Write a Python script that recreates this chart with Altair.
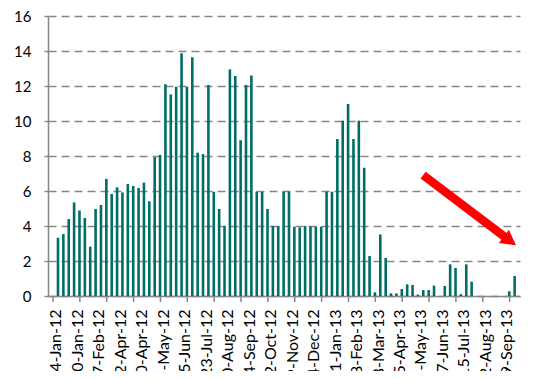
import altair as alt
import pandas as pd

# weekly values, Jan 2012 - Sep 2013 (86 categories)
values = [
    3.33, 3.54, 4.40, 5.35, 4.88, 4.46, 2.82, 4.97, 5.20, 6.69,
    5.83, 6.21, 5.92, 6.40, 6.29, 6.17, 6.48, 5.41, 7.94, 8.06,
    12.10, 11.52, 11.96, 13.87, 11.96, 13.64, 8.19, 8.11, 12.06, 5.96,
    4.97, 4.00, 12.95, 12.57, 8.90, 12.06, 12.60, 5.96, 5.94, 4.97,
    4.00, 4.00, 5.96, 5.96, 3.96, 3.92, 4.00, 3.96, 3.96, 3.96,
    5.96, 5.96, 8.97, 10.02, 10.97, 8.97, 10.02, 7.33, 2.29, 0.21,
    3.52, 2.17, 0.15, 0.15, 0.40, 0.67, 0.63, 0.08, 0.34, 0.34,
    0.59, 0.0, 0.57, 1.81, 1.60, 0.11, 1.81, 0.82, 0.0, 0.0,
    0.0, 0.0, 0.0, 0.0, 0.27, 1.14,
]

# category labels shown every 4th category
tick_labels = [
    "4-Jan-12", "30-Jan-12", "27-Feb-12", "2-Apr-12", "30-Apr-12", "28-May-12",
    "25-Jun-12", "23-Jul-12", "20-Aug-12", "24-Sep-12", "22-Oct-12", "19-Nov-12",
    "24-Dec-12", "21-Jan-13", "18-Feb-13", "18-Mar-13", "15-Apr-13", "13-May-13",
    "17-Jun-13", "15-Jul-13", "12-Aug-13", "9-Sep-13",
]
label_step = 4
tick_step = 5
y_ticks = [0, 2, 4, 6, 8, 10, 12, 14, 16]

# annotation arrow (in category / value units)
arrow_x = [68.4, 84.43]
arrow_y = [6.91, 3.18]

n = len(values)
df = pd.DataFrame({"i": list(range(n)), "v": values})
df_ticks = pd.DataFrame({"i": [k - 0.5 for k in range(0, n, tick_step)]})
df_arrow = pd.DataFrame({"i": arrow_x, "v": arrow_y})
df_head = df_arrow.iloc[[-1]]

W, H = 472, 280
FONT = "Lato"
GRAY = "#868686"

xscale = alt.Scale(domain=[-0.5, n - 0.5], nice=False, zero=False)
yscale = alt.Scale(domain=[0, 16], nice=False, zero=True)

label_expr = "[" + ",".join("'%s'" % s for s in tick_labels) + "][round(datum.value/%d)]" % label_step

bars = alt.Chart(df).mark_bar(size=2.6, color="#006E68", xOffset=2.3).encode(
    x=alt.X(
        "i:Q",
        scale=xscale,
        axis=alt.Axis(
            values=list(range(0, n, label_step)),
            tickCount=200,
            labelExpr=label_expr,
            labelAngle=270,
            ticks=False,
            grid=False,
            domainColor=GRAY,
            domainWidth=1.5,
            labelPadding=13,
            labelFont=FONT,
            labelFontSize=16,
            labelColor="#000000",
            labelOverlap=False,
            title=None,
        ),
    ),
    y=alt.Y(
        "v:Q",
        scale=yscale,
        axis=alt.Axis(
            values=y_ticks,
            tickCount=200,
            format="d",
            grid=True,
            gridDash=[8, 5],
            gridColor=GRAY,
            gridWidth=1.5,
            tickSize=4,
            tickColor=GRAY,
            tickWidth=1.5,
            domainColor=GRAY,
            domainWidth=1.5,
            labelPadding=13,
            labelFont=FONT,
            labelFontSize=15,
            labelColor="#000000",
            labelOverlap=False,
            title=None,
        ),
    ),
)

ticks = alt.Chart(df_ticks).mark_rule(color=GRAY, strokeWidth=1.5).encode(
    x=alt.X("i:Q", scale=xscale),
    y=alt.value(H),
    y2=alt.value(H + 6),
)

arrow_line = alt.Chart(df_arrow).mark_line(color="#FF0000", strokeWidth=8.5, strokeCap="butt").encode(
    x=alt.X("i:Q", scale=xscale),
    y=alt.Y("v:Q", scale=yscale),
)

arrow_head = alt.Chart(df_head).mark_point(
    shape="M-0.8,-1L1,0L-0.8,1Z", size=280, angle=36.6, filled=True, color="#FF0000", opacity=1
).encode(
    x=alt.X("i:Q", scale=xscale),
    y=alt.Y("v:Q", scale=yscale),
)

chart = alt.layer(bars, ticks, arrow_line, arrow_head).properties(
    width=W,
    height=H,
    autosize=alt.AutoSizeParams(type="none"),
    padding={"left": 40, "top": 8, "right": 5, "bottom": 75},
    background="white",
).configure_view(stroke=None)

chart.save("out.html", embed_options={"renderer": "svg", "actions": False})
